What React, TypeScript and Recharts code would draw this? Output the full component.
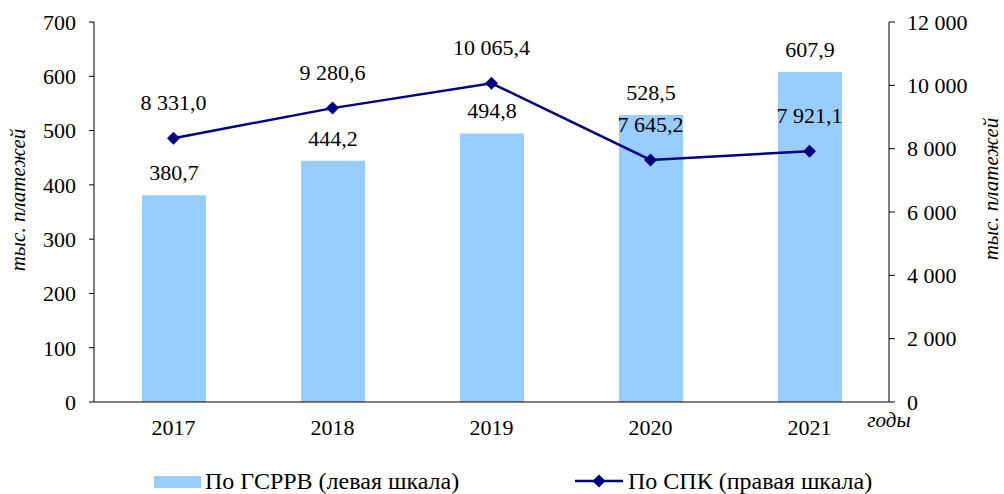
import { ComposedChart, Bar, Line, XAxis, YAxis, LabelList } from 'recharts';

const years = ['2017', '2018', '2019', '2020', '2021'];
const gsrrv = [380.7, 444.2, 494.8, 528.5, 607.9];
const spk = [8331.0, 9280.6, 10065.4, 7645.2, 7921.1];
const leftTicks = [0, 100, 200, 300, 400, 500, 600, 700];
const rightTicks = [0, 2000, 4000, 6000, 8000, 10000, 12000];
const boundaryTicks = [0, 1, 2, 3, 4, 5];

const data = years.map((year, i) => ({ year, gsrrv: gsrrv[i], spk: spk[i] }));

const FONT = 'Liberation Serif';
const BAR_COLOR = '#99CCFF';
const LINE_COLOR = '#000080';

// 8331 -> "8 331,0"
const fmt = (v: number, digits: number) => {
  const [int, dec] = v.toFixed(digits).split('.');
  const spaced = int.replace(/\B(?=(\d{3})+(?!\d))/g, ' ');
  return dec ? `${spaced},${dec}` : spaced;
};

const Diamond = ({ cx, cy }: any) => {
  if (cx == null || cy == null) return null;
  const r = 6.5;
  return (
    <polygon
      points={`${cx},${cy - r} ${cx + r},${cy} ${cx},${cy + r} ${cx - r},${cy}`}
      fill={LINE_COLOR}
    />
  );
};

const tickStyle = { fill: '#000', fontSize: 22, fontFamily: FONT };
const labelStyle = { fill: '#000', fontSize: 22, fontFamily: FONT };

const AxisTitle = ({ x, y }: { x: number; y: number }) => (
  <text
    x={x}
    y={y}
    transform={`rotate(-90, ${x}, ${y})`}
    textAnchor="middle"
    dominantBaseline="central"
    fontFamily={FONT}
    fontSize={21}
    fontStyle="italic"
    fill="#000"
  >
    тыс. платежей
  </text>
);

export default function App() {
  return (
    <div style={{ position: 'absolute', left: 0, top: 0, width: 1004, height: 494, background: '#fff', fontFamily: FONT }}>
      <ComposedChart
        width={1004}
        height={494}
        data={data}
        margin={{ top: 22, right: 35, left: 14, bottom: 52 }}
      >
        {/* boundary ticks between categories */}
        <XAxis
          xAxisId="grid"
          type="number"
          domain={[0, 5]}
          ticks={boundaryTicks}
          allowDataOverflow
          height={0}
          tick={false}
          axisLine={false}
          tickLine={{ stroke: '#000', strokeWidth: 1 }}
          tickSize={6}
        />
        <XAxis
          dataKey="year"
          height={40}
          tick={tickStyle}
          tickLine={false}
          tickSize={0}
          tickMargin={17}
          axisLine={{ stroke: '#000', strokeWidth: 1 }}
          label={({ viewBox }: any) => (
            <text
              x={viewBox.x + viewBox.width}
              y={viewBox.y + 25}
              textAnchor="middle"
              fontFamily={FONT}
              fontSize={21}
              fontStyle="italic"
              fill="#000"
            >
              годы
            </text>
          )}
        />
        <YAxis
          yAxisId="left"
          width={80}
          domain={[0, 700]}
          ticks={leftTicks}
          tick={tickStyle}
          tickSize={5}
          tickMargin={13}
          tickLine={{ stroke: '#000' }}
          axisLine={{ stroke: '#000' }}
          label={({ viewBox }: any) => <AxisTitle x={18} y={viewBox.y + viewBox.height / 2 - 12} />}
        />
        <YAxis
          yAxisId="right"
          orientation="right"
          width={80}
          domain={[0, 12000]}
          ticks={rightTicks}
          tickFormatter={(v: number) => fmt(v, 0)}
          tick={tickStyle}
          tickSize={6}
          tickMargin={12}
          tickLine={{ stroke: '#000' }}
          axisLine={{ stroke: '#000' }}
          label={({ viewBox }: any) => <AxisTitle x={991} y={viewBox.y + viewBox.height / 2 - 23} />}
        />
        <Bar yAxisId="left" dataKey="gsrrv" fill={BAR_COLOR} barSize={64} isAnimationActive={false}>
          <LabelList
            dataKey="gsrrv"
            position="top"
            offset={15}
            formatter={(v: any) => fmt(Number(v), 1)}
            style={labelStyle}
          />
        </Bar>
        <Line
          yAxisId="right"
          dataKey="spk"
          stroke={LINE_COLOR}
          strokeWidth={2.5}
          dot={<Diamond />}
          activeDot={false}
          isAnimationActive={false}
        >
          <LabelList
            dataKey="spk"
            position="top"
            offset={28}
            formatter={(v: any) => fmt(Number(v), 1)}
            style={labelStyle}
          />
        </Line>
      </ComposedChart>

      {/* legend */}
      <div style={{ position: 'absolute', left: 154, top: 476, width: 47, height: 12, background: BAR_COLOR }} />
      <div
        style={{
          position: 'absolute',
          left: 205,
          top: 466,
          fontFamily: FONT,
          fontSize: 24,
          lineHeight: '30px',
          whiteSpace: 'nowrap',
        }}
      >
        По ГСРРВ (левая шкала)
      </div>
      <svg style={{ position: 'absolute', left: 575, top: 472 }} width={50} height={18}>
        <line x1={0} y1={9} x2={48} y2={9} stroke={LINE_COLOR} strokeWidth={2.5} />
        <polygon points="24,2.5 30.5,9 24,15.5 17.5,9" fill={LINE_COLOR} />
      </svg>
      <div
        style={{
          position: 'absolute',
          left: 628,
          top: 466,
          fontFamily: FONT,
          fontSize: 24,
          lineHeight: '30px',
          whiteSpace: 'nowrap',
        }}
      >
        По СПК (правая шкала)
      </div>
    </div>
  );
}
